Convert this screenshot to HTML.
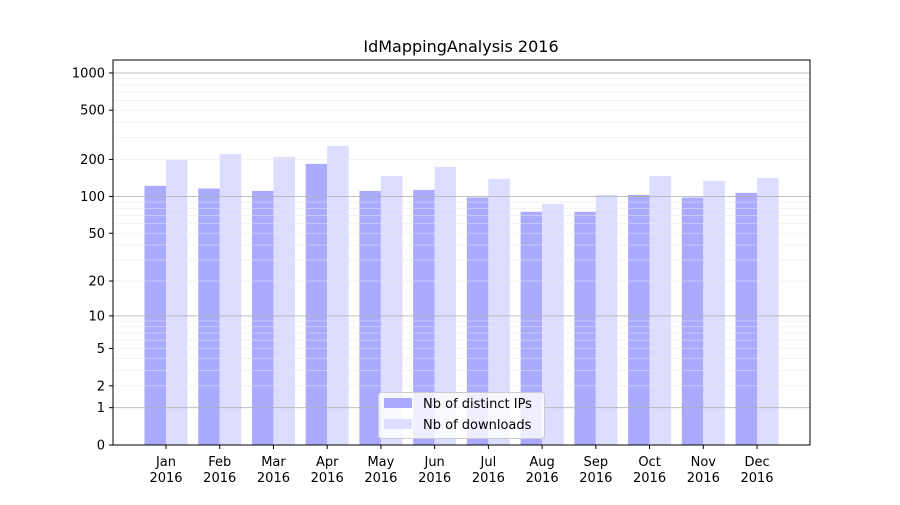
<!DOCTYPE html>
<html><head><meta charset="utf-8"><style>
body{margin:0;background:#fff}
text{font-family:"DejaVu Sans","Liberation Sans",sans-serif;font-size:13px;fill:#000}
</style></head><body>
<svg width="900" height="500" xmlns="http://www.w3.org/2000/svg">
<rect width="900" height="500" fill="#fff"/>
<g id="bars"></g>
<g id="grid"></g>
<rect x="113" y="60" width="697" height="385" fill="none" stroke="#000" stroke-width="1"/>
<g id="ticks"></g>
<text x="461" y="52" text-anchor="middle" style="font-size:16px">IdMappingAnalysis 2016</text>
<g>
<rect x="378.5" y="392.5" width="166" height="46" rx="3" fill="#fff" fill-opacity="0.8" stroke="#ccc"/>
<rect x="384" y="398" width="28" height="10" fill="#aaaaff"/>
<text x="423" y="408">Nb of distinct IPs</text>
<rect x="384" y="419" width="28" height="10" fill="#ddddff"/>
<text x="423" y="429">Nb of downloads</text>
</g>
</svg>
<script>
const ns="http://www.w3.org/2000/svg";
function Y(v){return 445-124*Math.log10(1+v);}
function el(t,a,p,txt){const e=document.createElementNS(ns,t);for(const k in a)e.setAttribute(k,a[k]);if(txt!==undefined)e.textContent=txt;document.getElementById(p).appendChild(e);return e;}
const minors=[];for(const d of [1,10,100,1000])for(let m=1;m<10;m++){const v=d*m;if(Y(v)>60)minors.push([v,m==1]);}
for(const [v,maj] of minors){const y=Y(v);el('line',{x1:113,x2:810,y1:y,y2:y,stroke:maj?'#b0b0b0':'#e8e8e8','stroke-width':maj?1:0.8,'stroke-opacity':maj?0.8:0.6},'grid');}
const ips=[122,116,111,184,111,113,98,75,75,103,98,107];
const dl=[198,221,209,257,147,174,139,87,103,147,134,141];
const mons=['Jan','Feb','Mar','Apr','May','Jun','Jul','Aug','Sep','Oct','Nov','Dec'];
for(let i=0;i<12;i++){const c=166+i*53.73;
el('rect',{x:c-21.5,y:Y(ips[i]),width:21.5,height:445-Y(ips[i]),fill:'#aaaaff'},'bars');
el('rect',{x:c,y:Y(dl[i]),width:21.5,height:445-Y(dl[i]),fill:'#ddddff'},'bars');
el('line',{x1:c,x2:c,y1:445,y2:449,stroke:'#000'},'ticks');
el('text',{x:c,y:466,'text-anchor':'middle'},'ticks',mons[i]);
el('text',{x:c,y:482,'text-anchor':'middle'},'ticks','2016');}
for(const v of [0,1,2,5,10,20,50,100,200,500,1000]){const y=Y(v);
el('line',{x1:109,x2:113,y1:y,y2:y,stroke:'#000'},'ticks');
el('text',{x:105,y:y+4.5,'text-anchor':'end'},'ticks',String(v));}
</script>
</body></html>
